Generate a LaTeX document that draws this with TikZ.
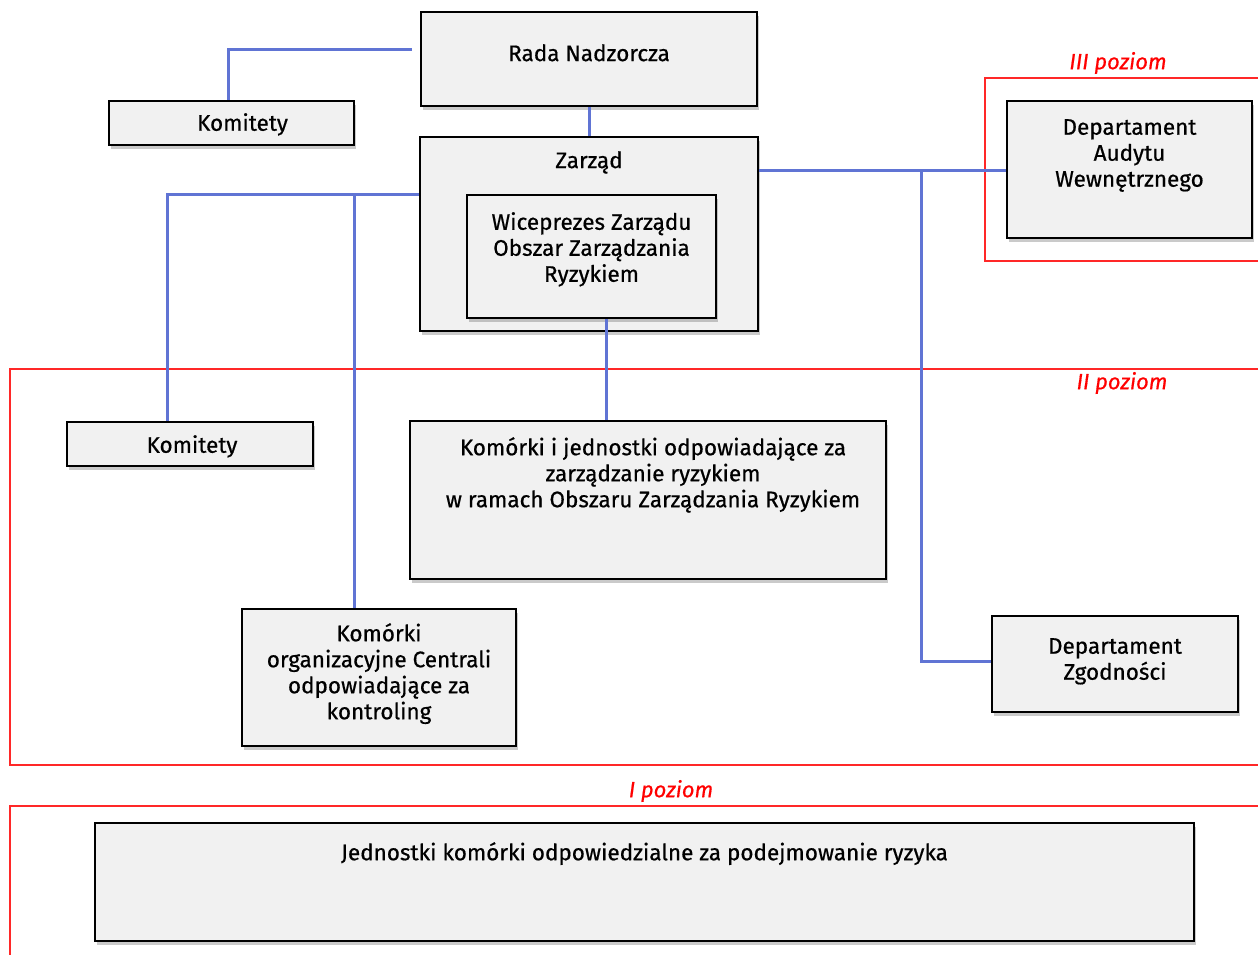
\documentclass[tikz,border=0pt]{standalone}
\usepackage{fontspec}
\setmainfont{Fira Sans}[FakeBold=0.6]
\usetikzlibrary{shadows}
\definecolor{boxfill}{RGB}{241,241,241}
\definecolor{conn}{RGB}{96,116,212}
\definecolor{lvl}{RGB}{255,40,40}
\tikzset{
  orgbox/.style={draw=black, line width=2pt, fill=boxfill, inner sep=0pt,
    drop shadow={shadow xshift=2pt, shadow yshift=-4pt, opacity=0.35, fill=black!60}},
  txt/.style={align=center, font=\fontsize{22.5}{26}\selectfont, inner sep=0pt},
  wire/.style={draw=conn, line width=3pt},
  frame/.style={draw=lvl, line width=1.2pt},
  lvltext/.style={text=red, font=\fontsize{22}{24}\selectfont\itshape, inner sep=0pt}
}
\begin{document}
\begin{tikzpicture}[x=1pt,y=-1pt]
\useasboundingbox (0,0) rectangle (1258,955);
% level frames
\draw[frame] (1258,78) -- (985,78) -- (985,261) -- (1258,261);
\draw[frame] (1258,369) -- (10,369) -- (10,765) -- (1258,765);
\draw[frame] (1258,806) -- (10,806) -- (10,955);
\node[lvltext] (l3) at (1118,63) {III poziom};
\node[lvltext] (l2) at (1122,383) {II poziom};
\node[lvltext] (l1) at (671,791) {I poziom};
% boxes
\node[orgbox, minimum width=336, minimum height=94,
  label={[txt,anchor=north,yshift=-33]north:Rada Nadzorcza}] (rada) at (589,59) {};
\node[orgbox, minimum width=245, minimum height=44,
  label={[txt,anchor=north,yshift=-13,xshift=11]north:Komitety}] (kom1) at (231.5,123) {};
\node[orgbox, minimum width=338, minimum height=194,
  label={[txt,anchor=north,yshift=-15]north:Zarząd}] (zarzad) at (589,234) {};
\node[orgbox, minimum width=249, minimum height=123,
  label={[txt,anchor=north,yshift=-18]north:Wiceprezes Zarządu\\Obszar Zarządzania\\Ryzykiem}] (wice) at (591.5,256.5) {};
\node[orgbox, minimum width=245, minimum height=137,
  label={[txt,anchor=north,yshift=-19]north:Departament\\Audytu\\Wewnętrznego}] (audyt) at (1129.5,169.5) {};
\node[orgbox, minimum width=246, minimum height=44,
  label={[txt,anchor=north,yshift=-14,xshift=2]north:Komitety}] (kom2) at (190,444) {};
\node[orgbox, minimum width=476, minimum height=158,
  label={[txt,anchor=north,yshift=-17,xshift=5]north:Komórki i jednostki odpowiadające za\\zarządzanie ryzykiem\\w ramach Obszaru Zarządzania Ryzykiem}] (kji) at (648,500) {};
\node[orgbox, minimum width=274, minimum height=137,
  label={[txt,anchor=north,yshift=-15]north:Komórki\\organizacyjne Centrali\\odpowiadające za\\kontroling}] (korg) at (379,677.5) {};
\node[orgbox, minimum width=246, minimum height=96,
  label={[txt,anchor=north,yshift=-23]north:Departament\\Zgodności}] (zgod) at (1115,664) {};
\node[orgbox, minimum width=1099, minimum height=118,
  label={[txt,anchor=north,yshift=-20]north:Jednostki komórki odpowiedzialne za podejmowanie ryzyka}] (jedn) at (644.5,882) {};
% connectors
\coordinate (rl) at ([xshift=-8pt,yshift=9pt]rada.west);
\draw[wire] (rl) -| (kom1.north -| 228,0);
\draw[wire] (rada.south) -- (zarzad.north);
\draw[wire] (zarzad.west |- 0,194) -| (kom2.north -| 167,0);
\draw[wire] (354,194) -- (korg.north -| 354,0);
\draw[wire] (wice.south -| 606,0) -- (kji.north -| 606,0);
\draw[wire] (zarzad.east |- 0,170) -- (audyt.west |- 0,170);
\draw[wire] (921,170) |- (zgod.west |- 0,661);
\end{tikzpicture}
\end{document}
